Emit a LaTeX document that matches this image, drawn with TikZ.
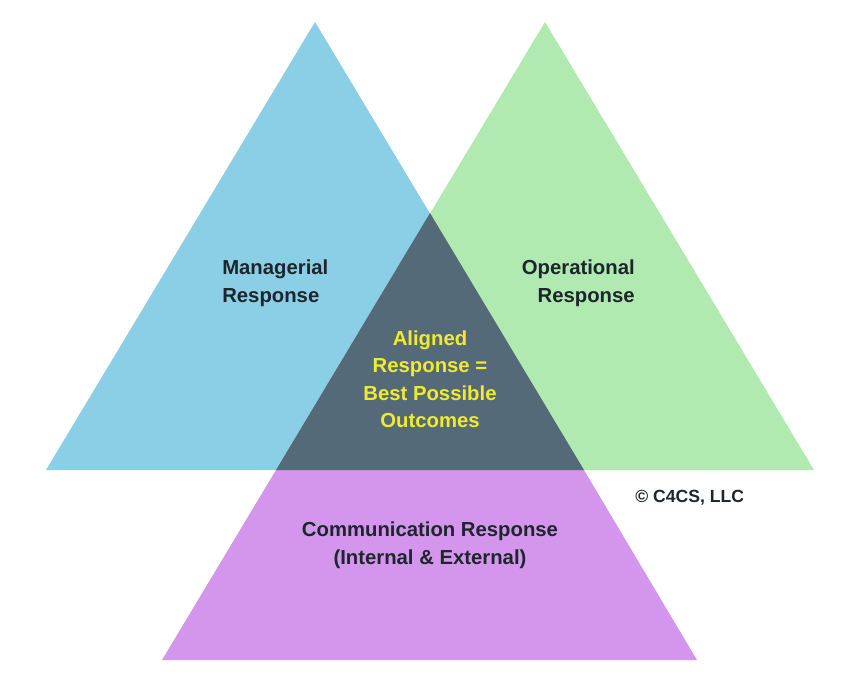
\documentclass[tikz,border=0pt]{standalone}
\usepackage{fontspec}
\setsansfont{Liberation Sans}
\usetikzlibrary{positioning}
\usetikzlibrary{calc}

\definecolor{mgrblue}{HTML}{8ACFE6}
\definecolor{opgreen}{HTML}{B0EAB0}
\definecolor{compurple}{HTML}{D496EC}
\definecolor{aligndark}{HTML}{546A78}
\definecolor{aligntext}{HTML}{F2EA2E}
\definecolor{labeltext}{HTML}{1C262C}

\begin{document}
\begin{tikzpicture}[x=1pt,y=-1pt,semithick,
					font=\sffamily\bfseries\fontsize{20.3}{27.5}\selectfont]
					\tikzstyle{every label}=[text=labeltext,inner sep=0pt]
					\tikzstyle{area label}=[every label,align=left]
					
					\useasboundingbox (0,0) rectangle (862,693);
					
					% corners of the triangles
					\coordinate (B_top)   at (315,22);
					\coordinate (B_left)  at (46,470);
					\coordinate (G_top)   at (545,22);
					\coordinate (G_right) at (814,470);
					\coordinate (M_top)   at (430,213);
					\coordinate (M_left)  at (276,470);
					\coordinate (M_right) at (584,470);
					\coordinate (P_left)  at (162,660);
					\coordinate (P_right) at (697,660);
					
					\fill[mgrblue]   (B_top) -- (B_left) -- (M_right) -- cycle;
					\fill[opgreen]   (G_top) -- (M_left) -- (G_right) -- cycle;
					\fill[compurple] (M_left) -- (P_left) -- (P_right) -- (M_right) -- cycle;
					\fill[aligndark] (M_top) -- (M_left) -- (M_right) -- cycle;
					
					\node[area label]           (mgr)   [anchor=west]  at (222,283)
					{Managerial\\Response};
					\node[area label,align=right] (ops) [anchor=east]  at (635,283)
					{Operational\\Response};
					\node[every label,align=center,text=aligntext] (align) at (430,379)
					{Aligned\\Response =\\Best Possible\\Outcomes};
					\node[every label,align=center] (comm)  at (430,545)
					{Communication Response\\(Internal \& External)};
					\node[every label,font=\sffamily\bfseries\fontsize{17.6}{20}\selectfont]
					(copy) [anchor=west] at (635,498) {\textcopyright{} C4CS, LLC};
					
					\end{tikzpicture}
\end{document}
